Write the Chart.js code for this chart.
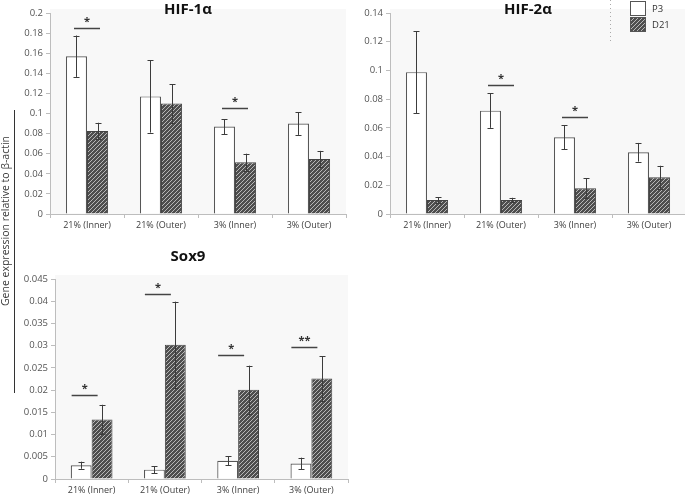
<!DOCTYPE html>
<html><head><meta charset="utf-8">
<script src="https://cdn.jsdelivr.net/npm/chart.js@4.4.1/dist/chart.umd.min.js"></script>
<style>
html,body{margin:0;padding:0;background:#fff;width:685px;height:497px;overflow:hidden;position:relative;font-family:"Open Sans",sans-serif;}
canvas{position:absolute;}
#ytitle{position:absolute;left:5px;top:221px;transform:translate(-50%,-50%) rotate(-90deg);white-space:nowrap;font-size:10.5px;color:#3a3a3a;}
#yline{position:absolute;left:14px;top:110px;width:1px;height:283px;background:#333;}
</style></head><body>
<canvas id="c1" width="350" height="235" style="left:0;top:0"></canvas>
<canvas id="c2" width="347" height="235" style="left:340px;top:0"></canvas>
<canvas id="c3" width="352" height="257" style="left:0;top:240px"></canvas>
<div id="yline"></div>
<div id="ytitle">Gene expression relative to β-actin</div>
<script>
// ---- data ----
const categories = ['21% (Inner)', '21% (Outer)', '3% (Inner)', '3% (Outer)'];
const seriesNames = ['P3', 'D21'];

const hif1P3 = [0.157, 0.117, 0.087, 0.090];
const hif1P3Err = [0.0206, 0.036, 0.0075, 0.0113];
const hif1D21 = [0.0825, 0.110, 0.0515, 0.0548];
const hif1D21Err = [0.0083, 0.019, 0.0085, 0.008];
const hif1Sig = [[0, 0.185, '*'], [2, 0.105, '*']];

const hif2P3 = [0.0988, 0.072, 0.0535, 0.043];
const hif2P3Err = [0.0285, 0.012, 0.0085, 0.0065];
const hif2D21 = [0.0098, 0.0098, 0.018, 0.0256];
const hif2D21Err = [0.002, 0.0015, 0.0068, 0.008];
const hif2Sig = [[1, 0.090, '*'], [2, 0.0674, '*']];

const sox9P3 = [0.0031, 0.0021, 0.0041, 0.0035];
const sox9P3Err = [0.0008, 0.0008, 0.001, 0.0013];
const sox9D21 = [0.0134, 0.0302, 0.0201, 0.0226];
const sox9D21Err = [0.0033, 0.0097, 0.0054, 0.005];
const sox9Sig = [[0, 0.019, '*'], [1, 0.0416, '*'], [2, 0.0278, '*'], [3, 0.0296, '**']];

// ---- styles ----
function hatch() {
  const c = document.createElement('canvas');
  c.width = 4; c.height = 4;
  const x = c.getContext('2d');
  x.fillStyle = '#4e4e4e'; x.fillRect(0, 0, 4, 4);
  x.strokeStyle = '#b8b8b8'; x.lineWidth = 1;
  x.beginPath();
  x.moveTo(-1, 1); x.lineTo(1, -1);
  x.moveTo(0, 4); x.lineTo(4, 0);
  x.moveTo(3, 5); x.lineTo(5, 3);
  x.stroke();
  return x.createPattern(c, 'repeat');
}
const hatchFill = hatch();
const FONT = '"Open Sans", sans-serif';
const AX = '#bdbdbd';

const bgPlugin = {
  id: 'bg',
  beforeDraw(chart) {
    const a = chart.chartArea, ctx = chart.ctx;
    ctx.save(); ctx.fillStyle = '#f8f8f8';
    ctx.fillRect(a.left, a.top - 4, a.right - a.left, a.bottom - a.top + 4);
    ctx.restore();
  }
};

const errPlugin = {
  id: 'err',
  afterDatasetsDraw(chart) {
    const ctx = chart.ctx, ys = chart.scales.y;
    ctx.save(); ctx.strokeStyle = '#3c3c3c'; ctx.lineWidth = 1;
    chart.data.datasets.forEach((ds, i) => {
      chart.getDatasetMeta(i).data.forEach((el, j) => {
        const v = ds.data[j], e = ds.errors[j];
        const t = ys.getPixelForValue(v + e), b = ys.getPixelForValue(v - e);
        const x = Math.round(el.x) + 0.5;
        ctx.beginPath();
        ctx.moveTo(x, t); ctx.lineTo(x, b);
        ctx.moveTo(x - 3, Math.round(t) + 0.5); ctx.lineTo(x + 3, Math.round(t) + 0.5);
        ctx.moveTo(x - 3, Math.round(b) + 0.5); ctx.lineTo(x + 3, Math.round(b) + 0.5);
        ctx.stroke();
      });
    });
    ctx.restore();
  }
};

const sigPlugin = {
  id: 'sig',
  afterDatasetsDraw(chart, args, opts) {
    const ctx = chart.ctx, xs = chart.scales.x, ys = chart.scales.y;
    ctx.save();
    ctx.strokeStyle = '#444'; ctx.lineWidth = 1.5; ctx.fillStyle = '#333';
    ctx.font = 'bold 11px ' + FONT; ctx.textAlign = 'center'; ctx.textBaseline = 'middle';
    (opts.marks || []).forEach(([c, v, lab]) => {
      const cx = xs.getPixelForValue(c), y = Math.round(ys.getPixelForValue(v)) + 0.5;
      const x0 = cx + opts.from, x1 = cx + opts.to;
      ctx.beginPath(); ctx.moveTo(x0, y); ctx.lineTo(x1, y); ctx.stroke();
      ctx.fillText(lab, (x0 + x1) / 2, y - 7);
    });
    ctx.restore();
  }
};

const titlePlugin = {
  id: 'ptitle',
  afterDraw(chart, args, opts) {
    const ctx = chart.ctx;
    ctx.save(); ctx.fillStyle = '#111'; ctx.font = 'bold 15px ' + FONT;
    ctx.textAlign = 'center'; ctx.textBaseline = 'middle';
    ctx.fillText(opts.text, opts.x, opts.y);
    ctx.restore();
  }
};

const legendPlugin = {
  id: 'mylegend',
  afterDraw(chart, args, opts) {
    if (!opts.show) return;
    const ctx = chart.ctx;
    ctx.save();
    ctx.strokeStyle = '#aaa'; ctx.lineWidth = 1; ctx.setLineDash([1, 3]);
    ctx.beginPath(); ctx.moveTo(opts.x - 19.5, 0); ctx.lineTo(opts.x - 19.5, 42); ctx.stroke();
    ctx.setLineDash([]);
    ctx.font = '9.5px ' + FONT; ctx.textBaseline = 'middle'; ctx.fillStyle = '#333';
    chart.data.datasets.forEach((ds, i) => {
      const y = 1.5 + i * 16;
      ctx.fillStyle = ds.backgroundColor; ctx.fillRect(opts.x + 0.5, y, 15, 14);
      ctx.strokeStyle = '#555'; ctx.lineWidth = 1; ctx.strokeRect(opts.x + 0.5, y, 15, 14);
      ctx.fillStyle = '#333'; ctx.fillText(ds.label, opts.x + 22, y + 7.5);
    });
    ctx.restore();
  }
};

function makeChart(id, p3, p3e, d21, d21e, sig, max, step, yW, pad, xH, title, sigFrom, sigTo, legend) {
  return new Chart(document.getElementById(id), {
    type: 'bar',
    data: {
      labels: categories,
      datasets: [
        { label: seriesNames[0], data: p3, errors: p3e, backgroundColor: '#ffffff', borderColor: '#575757', borderWidth: 1.2 },
        { label: seriesNames[1], data: d21, errors: d21e, backgroundColor: hatchFill, borderColor: '#444', borderWidth: 1 }
      ]
    },
    options: {
      responsive: false, animation: false, devicePixelRatio: 1,
      layout: { padding: pad },
      datasets: { bar: { barPercentage: 1, categoryPercentage: 0.57 } },
      plugins: {
        legend: { display: false }, tooltip: { enabled: false },
        sig: { marks: sig, from: sigFrom, to: sigTo },
        ptitle: title,
        mylegend: legend
      },
      scales: {
        x: {
          grid: { offset: true, drawOnChartArea: false, tickLength: 4, color: AX },
          border: { color: AX },
          ticks: { font: { family: FONT, size: 9 }, color: '#404040', padding: 2, maxRotation: 0 },
          afterFit: s => { s.height = xH; }
        },
        y: {
          min: 0, max: max,
          grid: { drawOnChartArea: false, tickLength: 4, color: AX },
          border: { color: AX },
          ticks: { stepSize: step, font: { family: FONT, size: 9.5 }, color: '#555', padding: 3,
                   callback: v => String(+(+v).toFixed(4)) },
          afterFit: s => { s.width = yW; }
        }
      }
    },
    plugins: [bgPlugin, errPlugin, sigPlugin, titlePlugin, legendPlugin]
  });
}

makeChart('c1', hif1P3, hif1P3Err, hif1D21, hif1D21Err, hif1Sig, 0.2, 0.02, 50,
  { left: 0, right: 4, top: 13, bottom: 0 }, 21, { text: 'HIF-1α', x: 188, y: 10 }, -13, 13, { show: false });
makeChart('c2', hif2P3, hif2P3Err, hif2D21, hif2D21Err, hif2Sig, 0.14, 0.02, 50,
  { left: 0, right: 1, top: 13, bottom: 0 }, 21, { text: 'HIF-2α', x: 188, y: 10 }, -13, 13, { show: true, x: 290 });
makeChart('c3', sox9P3, sox9P3Err, sox9D21, sox9D21Err, sox9Sig, 0.045, 0.005, 55,
  { left: 0, right: 4, top: 39, bottom: 0 }, 18, { text: 'Sox9', x: 188, y: 17 }, -20, 6, { show: false });
</script>
</body></html>
